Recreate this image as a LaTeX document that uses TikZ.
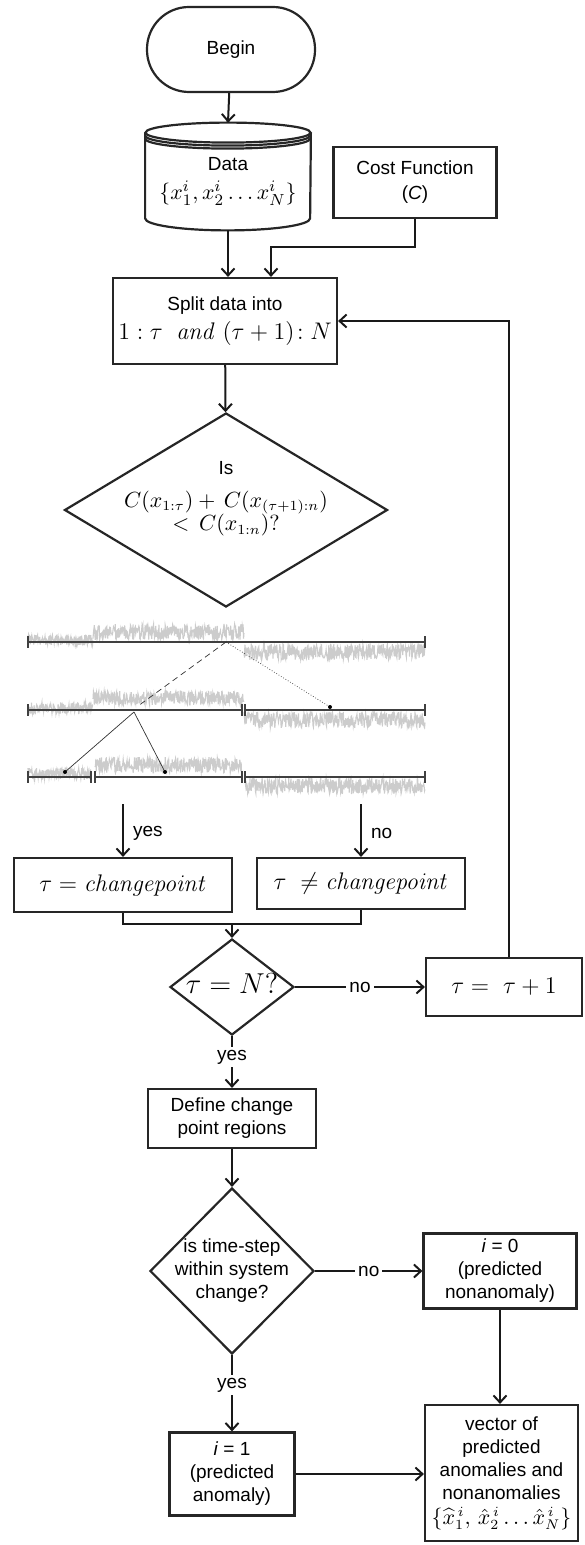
\documentclass[tikz,border=0pt]{standalone}
\usepackage[no-math]{fontspec}
\setmainfont{Liberation Sans}
\usepackage{amsmath,amssymb}
\usetikzlibrary{arrows.meta,positioning,shapes.geometric,calc}

\newcommand{\mth}[1]{\fontsize{#1}{#1}\selectfont}
\newcommand{\dtext}[1]{\makebox[0pt]{\begin{tabular}{@{}c@{}}#1\end{tabular}}}

\begin{document}
\begin{tikzpicture}[
  x=0.5pt, y=-0.5pt,
  font=\fontsize{9.5}{11.5}\selectfont,
  box/.style={draw=black!85, line width=1.1pt, align=center, inner sep=2pt},
  term/.style={box, rounded corners=21pt},
  dmd/.style={box, diamond, inner sep=0pt},
  store/.style={align=center, inner sep=0pt, minimum width=82.5pt, minimum height=48.5pt},
  cyl/.style={draw=black!85, line width=1.1pt},
  lbl/.style={inner sep=1.5pt},
  ar/.style={-{Straight Barb[length=3.5pt,width=6.5pt]}, line width=1pt, draw=black!90},
  ln/.style={line width=1pt, draw=black!90},
  sig/.style={gray!40, line width=0.55pt},
  axis/.style={black!75, line width=0.7pt},
  guide/.style={black!80, line width=0.35pt}
]
\useasboundingbox (0,0) rectangle (584,1545);

% --- start, data store and cost function --------------------------------
\node[term, minimum width=84pt, minimum height=42.5pt] (begin) at (231,49.5) {Begin};
\node[store] (data) at (228,181.5)
     {Data\\[3pt] {\mth{11}$\{x_1^i, x_2^i \ldots x_N^i\}$}};
\draw[cyl] (data.north west) -- ([yshift=6pt]data.south west)
     arc[start angle=180, end angle=360, x radius=41.25pt, y radius=6pt]
     -- (data.north east);
\draw[cyl] (data.north) ellipse [x radius=41.25pt, y radius=5pt];
\foreach \d in {1.5pt,3pt}
  \draw[cyl] ([yshift=-\d]data.north west)
       arc[start angle=180, end angle=360, x radius=41.25pt, y radius=5pt];
\node[box, minimum width=81.5pt, minimum height=35.5pt] (cost) at (415,182.5)
     {Cost Function\\[1pt] (\textit{C})};

% --- split and cost test --------------------------------------------------
\node[box, minimum width=112pt, minimum height=43pt] (split) at (225,321)
     {Split data into\\[3pt] {\mth{12}$1:\tau\ \ \mathit{and}\ (\tau+1)\!:N$}};
\node[dmd, minimum width=161.5pt, minimum height=97pt] (dec1) at (226,510)
     {\dtext{Is\\[5pt] \mth{10.5}$C(x_{1:\tau})+\,C(x_{(\tau+1):n})$\\
      \mth{10.5}$<\,C(x_{1:n})?$\\[12pt]}};

\draw[ar] (begin) -- ([yshift=5pt]data.north);
\draw[ar] (data.south) -- (data.south |- split.north);
\coordinate (costjoin) at (271,247);
\draw[ar] (cost.south) |- (costjoin) -- (costjoin |- split.north);
\draw[ar] (split) -- (dec1);

% --- binary segmentation sketch ------------------------------------------
\pgfmathsetseed{17}
\foreach \a/\b/\c/\m/\n in {28/93/640/5/150, 93/244/632/8/340, 244/425/652/8/400,
                            28/93/708/6/150, 93/244/698/7/340, 244/425/720/8/400,
                            28/91/774/6/150, 95/242/765/8/340, 245/425/786/8/400}
  \draw[sig] plot[domain=\a:\b, samples=\n, variable=\t] (\t, {\c+\m*rand});

\draw[axis] (28,642) -- (425,642);
\draw[axis] (28,710) -- (242,710) (245,710) -- (425,710);
\draw[axis] (28,777) -- (91,777) (95,777) -- (242,777) (245,777) -- (425,777);
\foreach \x/\y in {28/642, 425/642, 28/710, 242/710, 245/710, 425/710,
                   28/777, 91/777, 95/777, 242/777, 245/777, 425/777}
  \draw[axis] (\x,\y-6) -- (\x,\y+6);

\coordinate (g0) at (226,642);
\coordinate (g1) at (138,706);
\coordinate (g2) at (330,707);
\coordinate (g3) at (134,712);
\coordinate (g4) at (65,772);
\coordinate (g5) at (165,772);
\draw[guide, densely dashed] (g0) -- (g1);
\draw[guide, densely dotted] (g0) -- (g2);
\draw[guide] (g3) -- (g4);
\draw[guide] (g3) -- (g5);
\foreach \p in {g2,g4,g5}
  \fill (\p) circle[radius=1pt];

% --- outcome of the test --------------------------------------------------
\node[box, minimum width=109pt, minimum height=27pt] (cpyes) at (123,885)
     {\mth{13}$\tau = \mathit{changepoint}$};
\node[box, minimum width=104pt, minimum height=25.5pt] (cpno) at (361,883.5)
     {\mth{13}$\tau\ \neq \mathit{changepoint}$};
\coordinate (yesin) at (123,804);
\coordinate (noin) at (361,804);
\draw[ar] (yesin) -- node[lbl, right=3pt, pos=0.55] {yes} (cpyes);
\draw[ar] (noin) -- node[lbl, right=3pt, pos=0.55] {no} (cpno);

\node[dmd, minimum width=62pt, minimum height=48pt] (dec2) at (232,987)
     {\dtext{\mth{14}$\tau = N?$}};
\node[box, minimum width=78pt, minimum height=29pt] (inc) at (504,987)
     {\mth{13}$\tau =\ \tau+1$};
\coordinate (merge) at (232,924);
\draw[ln] (cpyes.south) |- (merge) -| (cpno.south);
\draw[ar] (merge) -- (dec2);
\draw[ar] (dec2) -- node[lbl, fill=white] {no} (inc);
\draw[ar] ([xshift=2.5pt]inc.north) |- (split.east);

% --- anomaly labelling ----------------------------------------------------
\node[box, minimum width=84pt, minimum height=29.5pt] (regions) at (232,1118.5)
     {Define change\\ point regions};
\node[dmd, minimum width=82pt, minimum height=83pt] (dec3) at (232,1271)
     {\dtext{is time-step\\ within system\\ change?}};
\node[box, minimum width=76.5pt, minimum height=37.5pt] (pred0) at (500,1271)
     {\textit{i} = 0\\ (predicted\\ nonanomaly)};
\node[box, minimum width=62.5pt, minimum height=41.5pt] (pred1) at (232,1474)
     {\textit{i} = 1\\ (predicted\\ anomaly)};
\node[box, minimum width=76.5pt, minimum height=68pt] (vec) at (501.5,1473)
     {vector of\\ predicted\\ anomalies and\\ nonanomalies\\[1pt]
      {\mth{10.5}$\{\widehat{x}_1^{\,i},\, \hat{x}_2^{\,i} \ldots \hat{x}_N^{\,i}\}$}};

\draw[ar] (dec2) -- node[lbl, fill=white, pos=0.41] {yes} (regions);
\draw[ar] (regions) -- (dec3);
\draw[ar] (dec3) -- node[lbl, fill=white] {no} (pred0);
\draw[ar] (dec3) -- node[lbl, fill=white, pos=0.39] {yes} (pred1);
\draw[ar] (pred0) -- (pred0 |- vec.north);
\draw[ar] (pred1.east) -- (pred1.east -| vec.west);

\end{tikzpicture}
\end{document}
